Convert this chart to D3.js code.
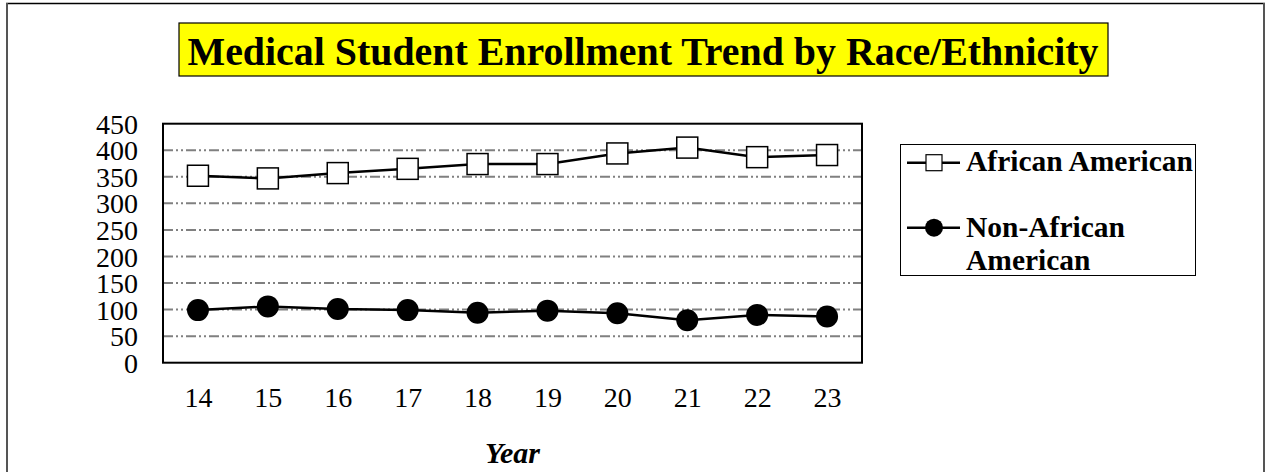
<!DOCTYPE html>
<html>
<head>
<meta charset="utf-8">
<script src="https://cdn.jsdelivr.net/npm/d3@7/dist/d3.min.js"></script>
<style>
  html, body { margin: 0; padding: 0; background: #fff; }
  svg { display: block; }
</style>
</head>
<body>
<svg id="chart" width="1266" height="472"></svg>
<script>
const title = "Medical Student Enrollment Trend by Race/Ethnicity";
const years = ["14", "15", "16", "17", "18", "19", "20", "21", "22", "23"];
const africanAmerican = [352, 347, 357, 365, 374, 374, 394, 405, 387, 391];
const nonAfricanAmerican = [99, 106, 101, 99, 94, 98, 93, 80, 90, 87];
const yTicks = [0, 50, 100, 150, 200, 250, 300, 350, 400, 450];
const seriesNames = ["African American", "Non-African American"];
const xAxisTitle = "Year";

const svg = d3.select("#chart");
const serif = "'Liberation Serif', 'Times New Roman', Times, serif";

// outer frame
svg.append("line").attr("x1", 6).attr("x2", 1265).attr("y1", 3.5).attr("y2", 3.5)
  .attr("stroke", "#000").attr("stroke-width", 1.3);
svg.append("line").attr("x1", 7).attr("x2", 7).attr("y1", 3).attr("y2", 472)
  .attr("stroke", "#555").attr("stroke-width", 2);
svg.append("line").attr("x1", 1264).attr("x2", 1264).attr("y1", 3).attr("y2", 472)
  .attr("stroke", "#555").attr("stroke-width", 2);

// title
svg.append("rect").attr("x", 179).attr("y", 23).attr("width", 929).attr("height", 53)
  .attr("fill", "#ffff00").attr("stroke", "#000").attr("stroke-width", 1.2);
svg.append("text").attr("x", 643).attr("y", 64.5)
  .attr("text-anchor", "middle").attr("font-family", serif)
  .attr("font-weight", "bold").attr("font-size", 39)
  .attr("textLength", 911).attr("lengthAdjust", "spacingAndGlyphs").text(title);

// plot area
const L = 163, R = 862, T = 123.7, B = 362.7;
const x = d3.scalePoint().domain(years).range([L, R]).padding(0.5);
const y = d3.scaleLinear().domain([0, 450]).range([B, T]);

// gridlines
svg.append("g").selectAll("line").data(yTicks.filter(v => v > 0 && v < 450)).join("line")
  .attr("x1", L).attr("x2", R).attr("y1", d => y(d)).attr("y2", d => y(d))
  .attr("stroke", "#808080").attr("stroke-width", 2)
  .attr("stroke-dasharray", "10,3,2,3,2,3");

// plot border
svg.append("rect").attr("x", L).attr("y", T).attr("width", R - L).attr("height", B - T)
  .attr("fill", "none").attr("stroke", "#000").attr("stroke-width", 2);

// axes
const yAxis = svg.append("g").attr("transform", `translate(${L},0)`)
  .call(d3.axisLeft(y).tickValues(yTicks).tickSize(0).tickPadding(25));
yAxis.select(".domain").remove();
yAxis.attr("font-family", serif).attr("font-size", 28);
yAxis.selectAll("text").attr("fill", "#000").attr("dy", "0.34em");

const xAxis = svg.append("g").attr("transform", `translate(0,${B})`)
  .call(d3.axisBottom(x).tickSize(0).tickPadding(24));
xAxis.select(".domain").remove();
xAxis.attr("font-family", serif).attr("font-size", 28);
xAxis.selectAll("text").attr("fill", "#000");

svg.append("text").attr("x", (L + R) / 2).attr("y", 463).attr("text-anchor", "middle")
  .attr("font-family", serif).attr("font-weight", "bold").attr("font-style", "italic")
  .attr("font-size", 30).text(xAxisTitle);

// lines
const line = d3.line().x((d, i) => x(years[i])).y(d => y(d));
svg.append("path").datum(africanAmerican).attr("d", line)
  .attr("fill", "none").attr("stroke", "#000").attr("stroke-width", 2.5);
svg.append("path").datum(nonAfricanAmerican).attr("d", line)
  .attr("fill", "none").attr("stroke", "#000").attr("stroke-width", 2.5);

// markers
const sq = 21;
svg.append("g").selectAll("rect").data(africanAmerican).join("rect")
  .attr("x", (d, i) => x(years[i]) - sq / 2).attr("y", d => y(d) - sq / 2)
  .attr("width", sq).attr("height", sq)
  .attr("fill", "#fff").attr("stroke", "#000").attr("stroke-width", 1.5);
svg.append("g").selectAll("circle").data(nonAfricanAmerican).join("circle")
  .attr("cx", (d, i) => x(years[i])).attr("cy", d => y(d)).attr("r", 11)
  .attr("fill", "#000");

// legend
svg.append("rect").attr("x", 900.5).attr("y", 144.5).attr("width", 295).attr("height", 131)
  .attr("fill", "#fff").attr("stroke", "#000").attr("stroke-width", 1);
const lg = svg.append("g");
lg.append("line").attr("x1", 907).attr("x2", 960).attr("y1", 162.7).attr("y2", 162.7)
  .attr("stroke", "#000").attr("stroke-width", 2.5);
lg.append("rect").attr("x", 934 - 8).attr("y", 162.7 - 8).attr("width", 16).attr("height", 16)
  .attr("fill", "#fff").attr("stroke", "#000").attr("stroke-width", 1.2);
lg.append("text").attr("x", 966).attr("y", 171).attr("font-family", serif)
  .attr("font-weight", "bold").attr("font-size", 29.5).text(seriesNames[0]);
lg.append("line").attr("x1", 907).attr("x2", 960).attr("y1", 227.7).attr("y2", 227.7)
  .attr("stroke", "#000").attr("stroke-width", 2.5);
lg.append("circle").attr("cx", 934).attr("cy", 227.7).attr("r", 9).attr("fill", "#000");
const t2 = lg.append("text").attr("font-family", serif).attr("font-weight", "bold").attr("font-size", 29.5);
t2.append("tspan").attr("x", 966).attr("y", 237).text("Non-African");
t2.append("tspan").attr("x", 966).attr("y", 269.5).text("American");
</script>
</body>
</html>
